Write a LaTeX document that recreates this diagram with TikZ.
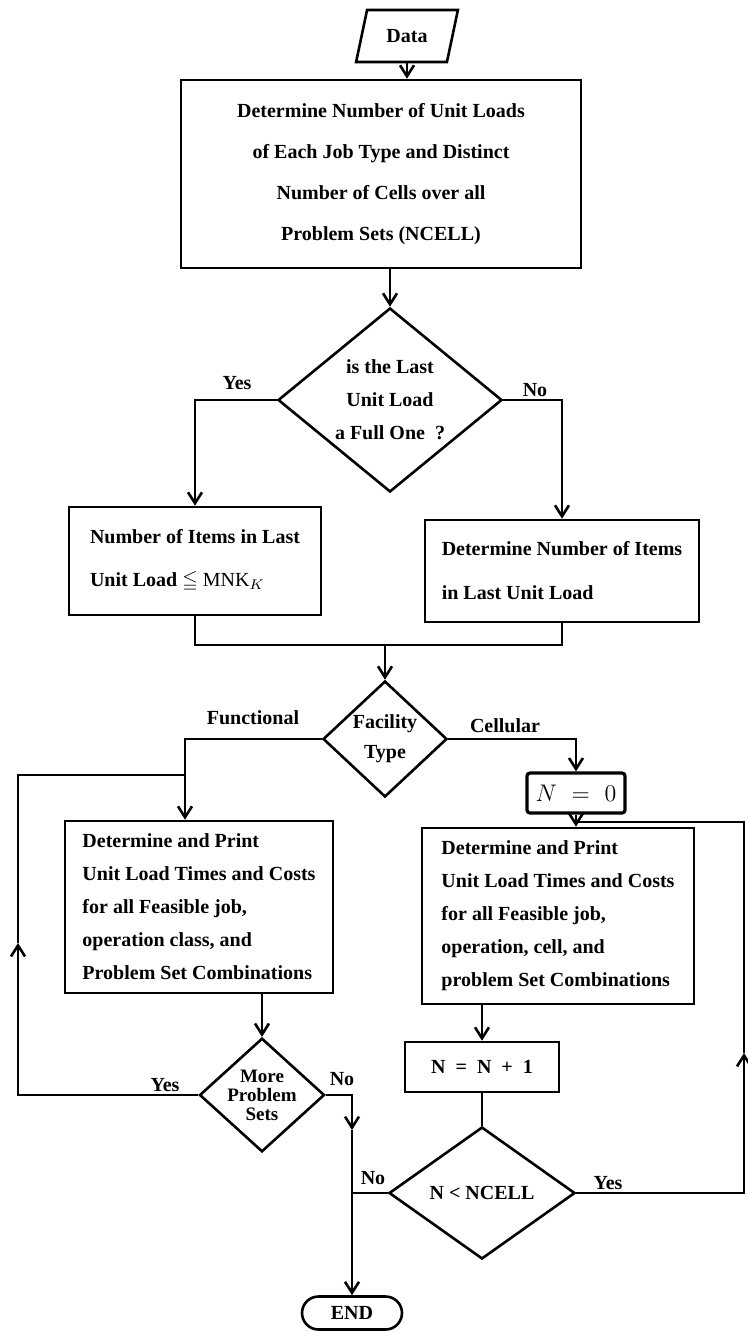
\documentclass[tikz,border=0pt]{standalone}
\usepackage{amsmath,amssymb}
\usepackage{fontspec}
\setmainfont{Liberation Serif}
\usepackage{tikz}
\usetikzlibrary{shapes.geometric,shapes.misc,arrows.meta}

\begin{document}
\begin{tikzpicture}[x=0.5pt,y=-0.5pt,line width=1.3pt,
    every node/.style={font=\fontsize{10}{12}\selectfont\bfseries},
    box/.style={draw,rectangle,inner sep=0pt},
    decision/.style={draw,diamond,inner sep=0pt,aspect=1.2},
    lbl/.style={inner sep=1pt},
    arr/.style={-{Straight Barb[length=5.5pt,width=7pt]}}]
    \useasboundingbox (0,0) rectangle (748,1332);

    % top part
    \node[draw,trapezium,trapezium left angle=67,trapezium right angle=113,
        trapezium stretches=true,minimum width=51pt,minimum height=26pt,inner sep=0pt] (data) at (407,36) {Data};
    \node[box,minimum width=200pt,minimum height=94pt,align=center,
        font=\fontsize{10}{20.5}\selectfont\bfseries] (box1) at (381,174)
        {Determine Number of Unit Loads\\of Each Job Type and Distinct\\Number of Cells over all\\Problem Sets (NCELL)};
    \node[decision,minimum width=112pt,minimum height=92pt,align=center,
        font=\fontsize{10}{16.5}\selectfont\bfseries] (dec1) at (390,400)
        {is the Last\\Unit Load\\a Full One\ \ ?};
    \node[lbl] (yes1) at (237,383) {Yes};
    \node[lbl] (no1) at (535,390) {No};
    \node[box,minimum width=126pt,minimum height=54pt,align=left,
        font=\fontsize{10}{21.5}\selectfont\bfseries] (box2) at (195,561)
        {Number of Items in Last\\Unit Load $\leqq$ $\mathrm{MNK}_K$};
    \node[box,minimum width=137pt,minimum height=51pt,align=left,
        font=\fontsize{10}{22}\selectfont\bfseries] (box3) at (562,571)
        {Determine Number of Items\\in Last Unit Load};
    \coordinate (join1) at (385,645);

    % facility type
    \node[decision,minimum width=62pt,minimum height=58pt,align=center,
        font=\fontsize{10}{15}\selectfont\bfseries] (dec2) at (385,739) {Facility\\Type};
    \node[lbl] (functional) at (253,718) {Functional};
    \node[lbl] (cellular) at (505,726) {Cellular};
    \node[box,line width=1.6pt,rounded corners=1.5pt,minimum width=49pt,minimum height=20pt,
        font=\fontsize{13}{15}\selectfont] (n0) at (576,793) {$N\hspace{4pt}=\hspace{4pt}0$};
    \coordinate (fjoin) at (185,775);
    \coordinate (cjoin) at (576,822);

    % functional branch
    \node[box,minimum width=134pt,minimum height=86pt,align=left,
        font=\fontsize{10}{16.5}\selectfont\bfseries] (box4) at (199,907)
        {Determine and Print\\Unit Load Times and Costs\\for all Feasible job,\\operation class, and\\Problem Set Combinations};
    \node[decision,aspect=1.1,minimum width=62pt,minimum height=56pt,align=center,
        font=\fontsize{9.5}{9.5}\selectfont\bfseries] (dec3) at (262,1095) {More\\Problem\\Sets};
    \node[lbl] (yes3) at (165,1085) {Yes};
    \node[lbl] (no3) at (342,1079) {No};
    \coordinate (lmid) at (18,943);
    \coordinate (nmid) at (352,1130);

    % cellular branch
    \node[box,minimum width=136pt,minimum height=88pt,align=left,
        font=\fontsize{10}{16.5}\selectfont\bfseries] (box5) at (558,916)
        {Determine and Print\\Unit Load Times and Costs\\for all Feasible job,\\operation, cell, and\\problem Set Combinations};
    \node[box,minimum width=77pt,minimum height=25pt] (box6) at (482,1067) {N\ \ =\ \ N\ \ +\ \ 1};
    \node[decision,minimum width=93pt,minimum height=66pt] (dec4) at (482,1193) {N < NCELL};
    \node[lbl] (no4) at (373,1178) {No};
    \node[lbl] (yes4) at (608,1183) {Yes};
    \coordinate (rmid) at (744,1053);

    \node[draw,rounded rectangle,minimum width=52pt,minimum height=16.5pt,inner sep=1pt] (stop) at (352,1313) {END};

    % connectors
    \draw[arr] (data.south) -- (data.south |- box1.north);
    \draw[arr] (box1.south -| dec1.north) -- (dec1.north);
    \draw[arr] (dec1.west) -| (box2.north);
    \draw[arr] (dec1.east) -| (box3.north);
    \draw (box2.south) |- (join1) -| (box3.south);
    \draw[arr] (join1) -- (dec2.north);
    \draw[arr] (dec2.west) -| (fjoin) -- (fjoin |- box4.north);
    \draw[arr] (dec2.east) -| (n0.north);
    \draw[arr] (n0.south) -- (n0.south |- box5.north);
    \draw[arr] (box4.south -| dec3.north) -- (dec3.north);
    \draw[arr] (dec3.west) -| (lmid);
    \draw (lmid) |- (fjoin);
    \draw[arr] (dec3.east) -| (nmid);
    \draw[arr] (nmid) -- (stop.north);
    \draw (dec4.west) -- (dec4.west -| nmid);
    \draw[arr] (box5.south -| box6.north) -- (box6.north);
    \draw (box6.south) -- (dec4.north);
    \draw[arr] (dec4.east) -| (rmid);
    \draw (rmid) |- (cjoin);
\end{tikzpicture}
\end{document}
